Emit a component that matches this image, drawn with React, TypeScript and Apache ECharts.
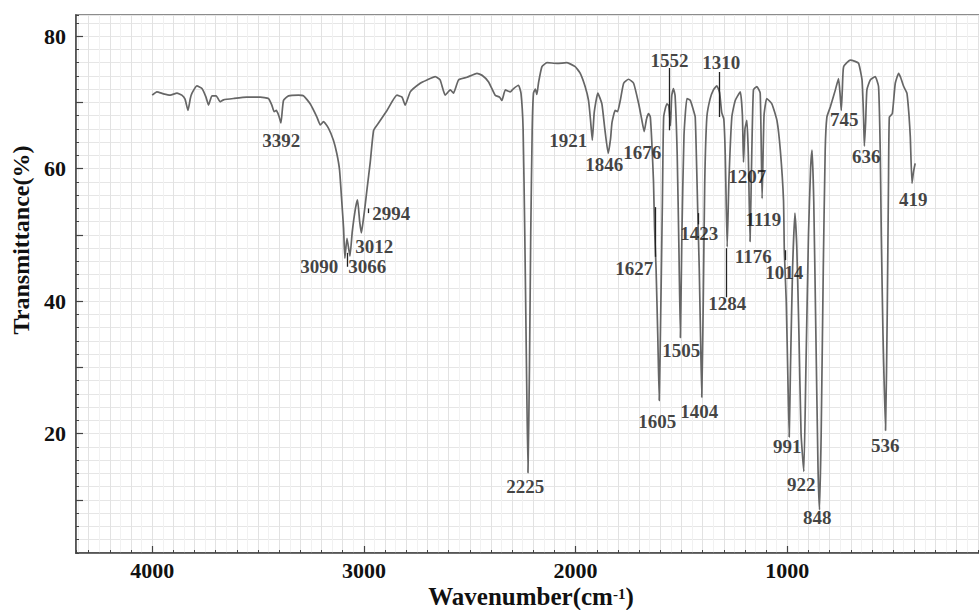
import React, { useEffect, useRef } from "react";
import * as echarts from "echarts";

// FTIR spectrum: [wavenumber (cm-1), transmittance (%)]
const spectrum: number[][] = [
  [4000, 71.1], [3978, 71.6], [3947, 71.3], [3915, 71.1], [3883, 71.4], [3860, 71.1], [3845, 70.5], [3831, 68.8],
  [3820, 70.6], [3812, 71.4], [3789, 72.5], [3765, 72.1], [3746, 70.8], [3734, 69.6], [3718, 71.0], [3698, 71.0],
  [3679, 70.1], [3663, 70.4], [3616, 70.6], [3553, 70.8], [3490, 70.8], [3451, 70.6], [3435, 69.6], [3424, 68.6],
  [3414, 68.8], [3402, 68.0], [3392, 66.9], [3380, 70.3], [3356, 71.0], [3309, 71.1], [3285, 71.0], [3254, 69.8],
  [3222, 67.8], [3206, 66.6], [3191, 67.1], [3167, 66.1], [3144, 64.3], [3128, 62.3], [3115, 59.8], [3104, 54.8],
  [3096, 51.0], [3090, 46.5], [3080, 49.5], [3066, 46.8], [3055, 50.5], [3040, 54.0], [3030, 55.3], [3020, 52.0],
  [3012, 50.3], [3002, 52.5], [2994, 54.5], [2985, 57.0], [2970, 61.0], [2954, 65.8], [2931, 66.9], [2891, 68.8],
  [2844, 71.1], [2820, 70.8], [2805, 69.6], [2781, 71.6], [2734, 72.9], [2702, 73.4], [2663, 73.9], [2640, 73.4],
  [2616, 71.1], [2592, 71.9], [2577, 71.4], [2553, 73.4], [2513, 73.8], [2466, 74.4], [2442, 74.1], [2411, 73.1],
  [2380, 71.1], [2359, 70.8], [2348, 70.3], [2332, 71.9], [2309, 71.6], [2293, 72.1], [2270, 72.6], [2258, 71.4],
  [2248, 66.0], [2240, 50.0], [2232, 30.0], [2225, 14.1], [2218, 30.0], [2212, 50.0], [2205, 66.0], [2199, 71.4],
  [2190, 72.0], [2183, 71.2], [2175, 73.0], [2159, 75.4], [2135, 76.0], [2088, 75.9], [2041, 76.0], [2002, 75.4],
  [1978, 74.4], [1955, 72.4], [1939, 70.3], [1930, 67.5], [1921, 64.3], [1912, 68.5], [1895, 71.4], [1876, 69.8],
  [1862, 66.0], [1846, 62.3], [1835, 64.5], [1828, 67.0], [1813, 68.8], [1802, 68.6], [1789, 70.3], [1773, 72.9],
  [1750, 73.5], [1726, 72.9], [1702, 69.8], [1688, 67.5], [1676, 65.6], [1665, 67.5], [1655, 68.3], [1647, 67.8],
  [1640, 64.0], [1632, 58.0], [1627, 51.0], [1620, 45.0], [1612, 35.0], [1605, 25.0], [1598, 38.0], [1590, 55.0],
  [1584, 67.8], [1569, 69.8], [1560, 69.5], [1552, 66.5], [1546, 71.0], [1538, 72.1], [1530, 71.0], [1520, 62.0],
  [1512, 48.0], [1505, 34.5], [1498, 50.0], [1488, 65.0], [1474, 70.6], [1458, 70.3], [1445, 69.0], [1435, 67.8],
  [1428, 60.0], [1423, 53.5], [1416, 45.0], [1410, 35.0], [1404, 25.5], [1397, 40.0], [1390, 58.0], [1380, 67.8],
  [1365, 70.5], [1349, 71.9], [1333, 72.5], [1320, 71.5], [1310, 68.5], [1300, 67.5], [1293, 62.0], [1284, 48.2],
  [1276, 58.0], [1262, 67.8], [1246, 70.3], [1222, 71.6], [1212, 68.0], [1207, 61.0], [1200, 66.0], [1191, 67.3],
  [1184, 62.0], [1176, 49.0], [1168, 62.0], [1160, 71.9], [1144, 72.4], [1128, 71.4], [1119, 55.5], [1110, 68.0],
  [1097, 70.6], [1073, 69.8], [1049, 67.3], [1033, 62.8], [1018, 55.3], [1014, 47.5], [1005, 40.0], [997, 28.0],
  [991, 19.5], [985, 30.0], [975, 45.0], [964, 53.3], [955, 48.0], [945, 35.0], [935, 20.0], [922, 14.3],
  [912, 30.0], [900, 50.0], [890, 60.0], [883, 62.8], [875, 55.0], [865, 35.0], [855, 15.0], [848, 8.5],
  [840, 20.0], [830, 45.0], [821, 62.8], [813, 67.8], [797, 69.3], [773, 71.9], [758, 73.6], [750, 71.0],
  [745, 68.8], [740, 72.0], [734, 75.4], [703, 76.4], [680, 76.2], [663, 75.9], [647, 73.4], [640, 68.0],
  [636, 63.4], [630, 67.0], [624, 71.9], [608, 73.4], [585, 73.9], [569, 72.4], [561, 62.8], [556, 50.0],
  [548, 35.0], [536, 20.5], [528, 38.0], [522, 58.0], [518, 67.8], [504, 68.3], [490, 72.9], [474, 74.4],
  [465, 73.8], [450, 72.4], [435, 71.4], [425, 68.0], [419, 64.8], [411, 57.8], [404, 59.5], [396, 60.8],
];

// Peak annotation texts and their label anchor (data coordinates)
const peakLabels = [
  "3392", "3090", "3066", "3012", "2994", "2225", "1921", "1846", "1676", "1627",
  "1605", "1552", "1505", "1423", "1404", "1310", "1284", "1207", "1119", "1176",
  "1014", "991", "922", "848", "536", "745", "636", "419",
];
const peakLabelX = [
  3391, 3211, 2984, 2951, 2871, 2238, 2035, 1865, 1685, 1723,
  1614, 1557, 1501, 1416, 1416, 1312, 1284, 1189, 1113, 1161,
  1014, 1000, 934, 858, 537, 731, 627, 405,
];
const peakLabelY = [
  64.3, 45.3, 45.3, 48.2, 53.3, 12.0, 64.2, 60.6, 62.5, 45.0,
  21.9, 76.3, 32.6, 50.2, 23.3, 76.0, 39.7, 58.9, 52.3, 46.8,
  44.4, 18.0, 12.4, 7.4, 18.2, 67.5, 61.8, 55.4,
];

// Short leader lines between curve and labels
const leaderX = [3080, 2980, 1557, 1320, 1624, 1423, 1288, 1012];
const leaderTop = [47.3, 54.0, 75.2, 74.6, 54.2, 53.3, 48.0, 47.7];
const leaderBottom = [45.2, 53.3, 65.8, 67.8, 46.7, 51.6, 40.6, 46.2];

const xLabelValues = [1000, 2000, 3000, 4000];
const yLabelValues = [20, 40, 60, 80];
const xMajorTicks = [1000, 2000, 3000, 4000];
const yMajorTicks = [10, 20, 30, 40, 50, 60, 70, 80];

const X_MIN = 0;
const X_MAX = 4360;
const Y_MIN = 2;
const Y_MAX = 83.2;
const GRID_LEFT = 76;
const GRID_TOP = 15;
const GRID_W = 923;
const GRID_H = 538;
const MAJOR_TICK_PX = 7;

const SERIF = "'Liberation Serif', 'Times New Roman', serif";

export default function App() {
  const ref = useRef<HTMLDivElement>(null);

  useEffect(() => {
    if (!ref.current) return;
    const chart = echarts.init(ref.current, undefined, { renderer: "svg" });

    const axisLabelStyle = {
      fontFamily: SERIF,
      fontWeight: "bold" as const,
      fontSize: 22,
      color: "#111",
    };

    const unitsPerPxX = (X_MAX - X_MIN) / GRID_W;
    const unitsPerPxY = (Y_MAX - Y_MIN) / GRID_H;

    const leaderLines = leaderX.map((x, i) => [
      { coord: [x, leaderTop[i]] },
      { coord: [x, leaderBottom[i]] },
    ]);
    const tickStyle = { color: "#444", width: 1.2 };
    const xMajorTickLines = xMajorTicks.map((v) => [
      { coord: [v, Y_MIN], lineStyle: tickStyle },
      { coord: [v, Y_MIN + MAJOR_TICK_PX * unitsPerPxY] },
    ]);
    const yMajorTickLines = yMajorTicks.map((t) => [
      { coord: [X_MAX, t], lineStyle: tickStyle },
      { coord: [X_MAX - MAJOR_TICK_PX * unitsPerPxX, t] },
    ]);

    chart.setOption({
      animation: false,
      backgroundColor: "#ffffff",
      grid: {
        left: GRID_LEFT,
        top: GRID_TOP,
        width: GRID_W,
        height: GRID_H,
        outerBoundsMode: "none",
        containLabel: false,
        show: true,
        borderColor: "#8c8c8c",
        borderWidth: 2,
        backgroundColor: "transparent",
      },
      xAxis: {
        type: "value",
        inverse: true,
        min: X_MIN,
        max: X_MAX,
        interval: 100,
        position: "bottom",
        axisLine: { show: true, onZero: false, lineStyle: { color: "#444", width: 1.5 } },
        axisTick: { show: true, inside: true, length: 3, lineStyle: { color: "#444", width: 1 } },
        axisLabel: {
          ...axisLabelStyle,
          margin: 8,
          lineHeight: 18,
          formatter: (v: number) => (xLabelValues.includes(v) ? String(v) : ""),
        },
        splitLine: { show: true, lineStyle: { color: "#e2e2e2", width: 1 } },
        minorSplitLine: { show: true, lineStyle: { color: "#f1f1f1", width: 1 } },
        minorTick: { show: false, splitNumber: 2 },
      },
      yAxis: {
        type: "value",
        min: Y_MIN,
        max: Y_MAX,
        interval: 2,
        position: "left",
        axisLine: { show: true, onZero: false, lineStyle: { color: "#444", width: 1.5 } },
        axisTick: { show: true, inside: true, length: 3, lineStyle: { color: "#444", width: 1 } },
        axisLabel: {
          ...axisLabelStyle,
          margin: 10,
          formatter: (v: number) => (yLabelValues.includes(v) ? String(v) : ""),
        },
        splitLine: { show: true, lineStyle: { color: "#e6e6e6", width: 1 } },
      },
      graphic: [
        {
          type: "text",
          x: 21,
          y: 240,
          rotation: Math.PI / 2,
          style: {
            text: "Transmittance(%)",
            font: `bold 24px ${SERIF}`,
            fill: "#111",
            textAlign: "center",
            textVerticalAlign: "middle",
          },
        },
        {
          type: "text",
          x: 531,
          y: 596,
          style: {
            text: "Wavenumber(cm{sup|-1})",
            fontFamily: SERIF,
            fontWeight: "bold",
            fontSize: 25,
            lineHeight: 20,
            fill: "#111",
            align: "center",
            verticalAlign: "middle",
            rich: {
              sup: {
                fontFamily: SERIF,
                fontWeight: "bold",
                fontSize: 15,
                lineHeight: 12,
                fill: "#111",
                verticalAlign: "top",
              },
            },
          },
        },
      ],
      series: [
        {
          type: "line",
          data: spectrum,
          symbol: "none",
          smooth: 0.15,
          lineStyle: { color: "#666666", width: 1.7 },
          z: 3,
          markLine: {
            silent: true,
            symbol: ["none", "none"],
            label: { show: false },
            lineStyle: { color: "#222", width: 1.3, type: "solid" },
            data: [...leaderLines, ...xMajorTickLines, ...yMajorTickLines],
          },
        },
        {
          type: "scatter",
          symbol: "circle",
          symbolSize: 1,
          itemStyle: { color: "rgba(0,0,0,0)" },
          silent: true,
          z: 4,
          data: peakLabels.map((t, i) => ({ name: t, value: [peakLabelX[i], peakLabelY[i]] })),
          label: {
            show: true,
            position: "inside",
            formatter: (p: any) => p.name,
            fontFamily: SERIF,
            fontWeight: "bold",
            fontSize: 19,
            color: "#111",
          },
        },
      ],
    });

    return () => chart.dispose();
  }, []);

  return (
    <div
      ref={ref}
      style={{ position: "absolute", left: 0, top: 0, width: 979, height: 610, background: "#fff" }}
    />
  );
}
